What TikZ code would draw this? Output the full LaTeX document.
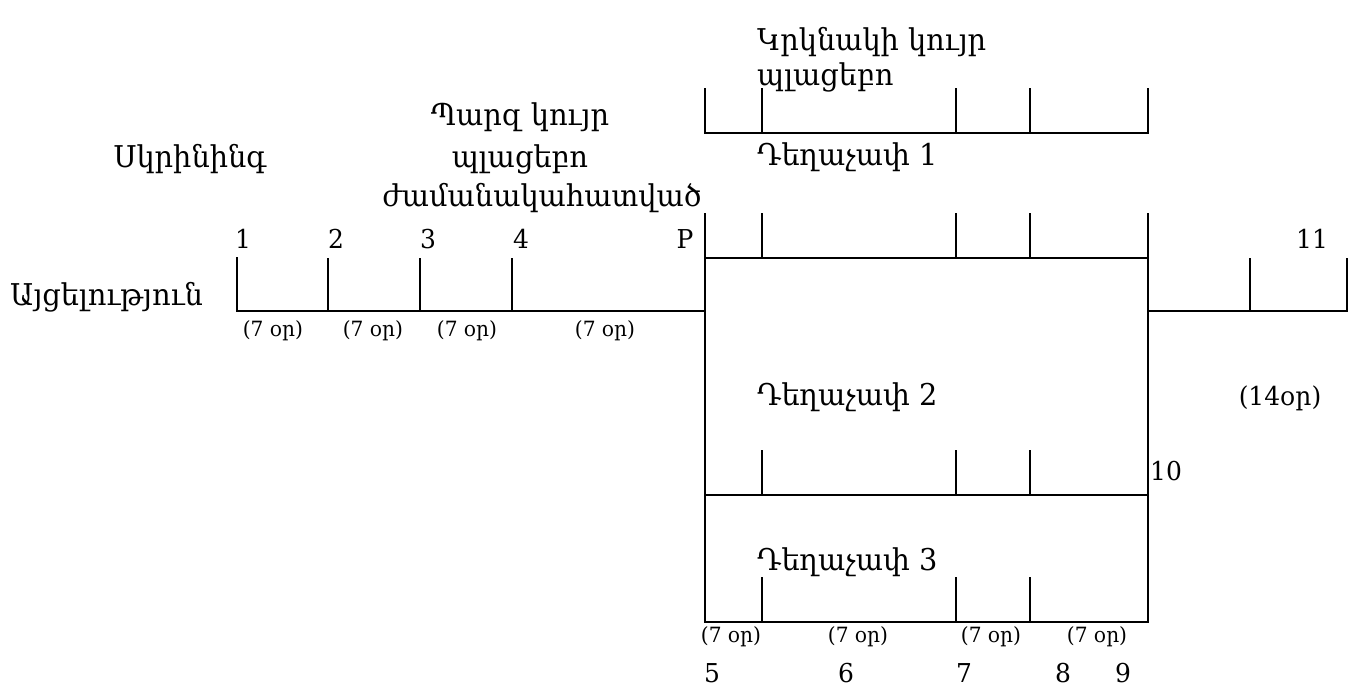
\documentclass[tikz,border=0pt]{standalone}
\usepackage{fontspec}
\setmainfont{DejaVu Serif}[FakeStretch=0.96]
\begin{document}
\begin{tikzpicture}[x=1pt,y=-1pt,
  ln/.style={line width=2.5pt},
  big/.style={inner sep=0pt,font=\fontsize{30}{34}\selectfont},
  small/.style={inner sep=0pt,font=\fontsize{21}{24}\selectfont},
  lbl/.style={big,anchor=base west},
  num/.style={inner sep=0pt,font=\fontsize{26}{30}\selectfont,anchor=base},
  dur/.style={small,anchor=base}]
\useasboundingbox (0,0) rectangle (1362,686);
% left timeline
\draw[ln] (237,257) -- (237,311) -- (705,311);
\foreach \x in {328,420,512} \draw[ln] (\x,258) -- (\x,311);
% main left vertical
\draw[ln] (705,213) -- (705,622) -- (1148,622) -- (1148,213);
% top bracket (dose 1 upper)
\draw[ln] (705,88) -- (705,133) -- (1148,133) -- (1148,88);
\foreach \x in {762,956,1030} \draw[ln] (\x,88) -- (\x,133);
% middle bracket
\draw[ln] (705,258) -- (1148,258);
\foreach \x in {762,956,1030} \draw[ln] (\x,213) -- (\x,258);
% dose 3 line
\draw[ln] (705,495) -- (1148,495);
\foreach \x in {762,956,1030} \draw[ln] (\x,450) -- (\x,495);
\foreach \x in {762,956,1030} \draw[ln] (\x,577) -- (\x,622);
% right timeline
\draw[ln] (1148,311) -- (1347,311) -- (1347,258);
\draw[ln] (1250,258) -- (1250,311);
% texts
\node[lbl] (kk) at (757,50) {Կրկնակի կույր};
\node[lbl] (kp) at (757,85) {պլացեբո};
\node[lbl] (d1) at (757,165) {Դեղաչափ 1};
\node[big,anchor=base] (pk) at (520,125) {Պարզ կույր};
\node[big,anchor=base] (pp) at (520,167) {պլացեբո};
\node[big,anchor=base] (pz) at (542,206) {ժամանակահատված};
\node[big,anchor=base] (sk) at (190,167) {Սկրինինգ};
\node[big,anchor=base west] (ay) at (10,305) {Այցելություն};
\node[num] (n1) at (243,248) {1};
\node[num] (n2) at (336,248) {2};
\node[num] (n3) at (428,248) {3};
\node[num] (n4) at (521,248) {4};
\node[num] (nP) at (685,248) {P};
\node[num] (n11) at (1312,248) {11};
\node[dur] (w1) at (273,336) {(7 օր)};
\node[dur] (w2) at (373,336) {(7 օր)};
\node[dur] (w3) at (467,336) {(7 օր)};
\node[dur] (w4) at (605,336) {(7 օր)};
\node[lbl] (d2) at (757,405) {Դեղաչափ 2};
\node[num] (w14) at (1280,405) {(14օր)};
\node[num,anchor=base west] (n10) at (1150,480) {10};
\node[lbl] (d3) at (757,570) {Դեղաչափ 3};
\node[dur] (b1) at (731,642) {(7 օր)};
\node[dur] (b2) at (858,642) {(7 օր)};
\node[dur] (b3) at (991,642) {(7 օր)};
\node[dur] (b4) at (1097,642) {(7 օր)};
\node[num] (n5) at (712,682) {5};
\node[num] (n6) at (846,682) {6};
\node[num] (n7) at (964,682) {7};
\node[num] (n8) at (1063,682) {8};
\node[num] (n9) at (1123,682) {9};
\end{tikzpicture}
\end{document}
